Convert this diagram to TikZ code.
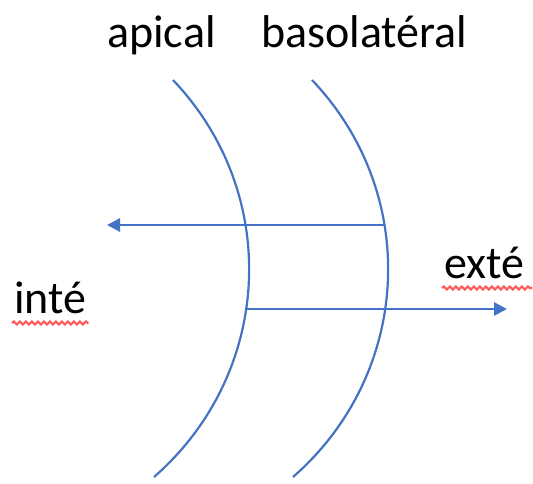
\documentclass[tikz,border=0pt]{standalone}
\usepackage{fontspec}
\setmainfont{Carlito}
\definecolor{membraneBlue}{RGB}{68, 114, 196}
\definecolor{spellRed}{RGB}{255, 90, 90}
\usetikzlibrary{arrows.meta, positioning, calc, decorations.pathmorphing}

\begin{document}
\begin{tikzpicture}[x=1pt, y=-1pt]
    \tikzset{
        label/.style={inner sep=0pt, font=\fontsize{46}{50}\selectfont},
        membrane/.style={draw=membraneBlue, line width=2.2pt},
        arrow/.style={draw=membraneBlue, line width=2.8pt, -{Triangle[length=13pt, width=13pt]}},
        squiggle/.style={draw=spellRed, line width=2.2pt, decorate, decoration={snake, amplitude=1.5pt, segment length=6pt}}
    }
    \useasboundingbox (0,0) rectangle (533,483);

    \node [label, anchor=base west] (apical) at (107,47) {apical};
    \node [label, anchor=base west] (baso) at (261,47) {basolatéral};
    \node [label, anchor=base west] (exte) at (444,278) {exté};
    \node [label, anchor=base west] (inte) at (14,313) {inté};

    % membranes
    \draw [membrane] (173,80) .. controls (281.5,194) and (273,373) .. (154,477);
    \draw [membrane] (312,80) .. controls (420.5,194) and (412,373) .. (293,477);

    \coordinate (apicalIn) at (247,309);
    \coordinate (basoIn) at (385,225);
    \coordinate (inEnd) at (107,225);
    \coordinate (outEnd) at (507,309);

    \draw [arrow] (basoIn) -- (inEnd);
    \draw [arrow] (apicalIn) -- (outEnd);

    % spell check marks
    \draw [squiggle] ($(exte.base west)+(-2,10)$) -- ($(exte.base east)+(8,10)$);
    \draw [squiggle] ($(inte.base west)+(-2,10)$) -- ($(inte.base east)+(2,10)$);
\end{tikzpicture}
\end{document}
